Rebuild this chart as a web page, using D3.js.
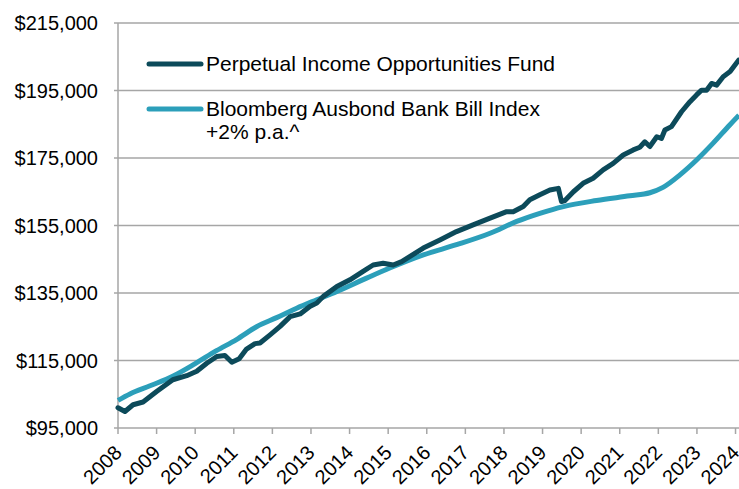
<!DOCTYPE html>
<html>
<head>
<meta charset="utf-8">
<script src="https://cdn.jsdelivr.net/npm/d3@7"></script>
<style>
  body { margin: 0; background: #fff; }
  text { font-family: "Liberation Sans", Arial, sans-serif; fill: #000; }
</style>
</head>
<body>
<svg id="chart"></svg>
<script>
// growth of $100k, positions (decimal years)
const fundYears = [2008.00, 2008.18, 2008.39, 2008.65, 2009.00, 2009.42, 2009.78, 2010.04, 2010.30, 2010.56,
  2010.77, 2010.95, 2011.14, 2011.33, 2011.55, 2011.68, 2011.94, 2012.20, 2012.46, 2012.72,
  2012.97, 2013.15, 2013.32, 2013.67, 2014.01, 2014.35, 2014.61, 2014.87, 2015.13, 2015.35,
  2015.91, 2016.34, 2016.77, 2017.20, 2017.64, 2018.07, 2018.24, 2018.50, 2018.67, 2018.93,
  2019.19, 2019.41, 2019.49, 2019.58, 2019.80, 2020.05, 2020.31, 2020.57, 2020.83, 2021.09,
  2021.35, 2021.52, 2021.65, 2021.78, 2021.96, 2022.08, 2022.17, 2022.34, 2022.60, 2022.82,
  2022.99, 2023.12, 2023.25, 2023.38, 2023.51, 2023.68, 2023.86, 2024.08];
const fundValues = [101000, 99900, 101900, 102700, 105800, 109300, 110500, 111800, 114200, 116200,
  116500, 114500, 115500, 118400, 120000, 120200, 122600, 125100, 128000, 128800,
  131000, 132000, 134000, 136900, 138900, 141400, 143300, 143800, 143300, 144300,
  148300, 150700, 153200, 155200, 157200, 159100, 159100, 160600, 162600, 164100,
  165500, 166000, 162100, 162400, 165000, 167500, 169000, 171500, 173400, 175900,
  177400, 178200, 179800, 178400, 181300, 180800, 183300, 184300, 188700, 191700,
  193700, 195100, 195100, 197100, 196600, 199100, 200600, 204000];

const benchYears = [2008.00, 2008.31, 2008.83, 2009.43, 2009.99, 2010.55, 2011.07, 2011.59, 2012.11, 2012.63,
  2013.15, 2013.66, 2014.44, 2015.04, 2015.91, 2016.77, 2017.64, 2018.33, 2018.93, 2019.54,
  2020.40, 2021.26, 2021.78, 2022.12, 2022.56, 2022.99, 2023.42, 2023.85, 2024.09];
const benchValues = [103200, 105100, 107500, 110400, 114000, 117900, 121200, 125000, 127700, 130500,
  133000, 135400, 139400, 142400, 146300, 149300, 152700, 156200, 158600, 160600,
  162400, 163800, 164700, 166300, 170000, 174400, 179400, 184800, 187700];

const yTicks = [95000, 115000, 135000, 155000, 175000, 195000, 215000];
const xTicks = d3.range(2008, 2025);
const seriesNames = ["Perpetual Income Opportunities Fund", "Bloomberg Ausbond Bank Bill Index"];

const width = 739, height = 489;
const margin = { top: 23, right: 0, bottom: 61, left: 118 };
const colors = ["#0c4a5a", "#2c9fba"];

const svg = d3.select("#chart").attr("width", width).attr("height", height);

const x = d3.scaleLinear().domain([2008, 2024.09]).range([margin.left, width - margin.right]);
const y = d3.scaleLinear().domain([95000, 215000]).range([height - margin.bottom, margin.top]);
const fmt = v => "$" + d3.format(",")(v);

// gridlines
svg.append("g")
  .selectAll("line")
  .data(yTicks)
  .join("line")
  .attr("x1", margin.left - 4).attr("x2", width)
  .attr("y1", d => y(d)).attr("y2", d => y(d))
  .attr("stroke", "#a6a6a6").attr("stroke-width", 1.5);

// y labels
svg.append("g")
  .selectAll("text")
  .data(yTicks)
  .join("text")
  .attr("x", 98).attr("y", d => y(d) + 7)
  .attr("text-anchor", "end")
  .attr("font-size", 20)
  .text(fmt);

// y axis line
svg.append("line")
  .attr("x1", margin.left).attr("x2", margin.left)
  .attr("y1", margin.top).attr("y2", y(95000))
  .attr("stroke", "#a6a6a6").attr("stroke-width", 1.5);

// x ticks
const xg = svg.append("g");
xg.selectAll("line")
  .data(xTicks)
  .join("line")
  .attr("x1", d => x(d)).attr("x2", d => x(d))
  .attr("y1", y(95000)).attr("y2", y(95000) + 6)
  .attr("stroke", "#a6a6a6").attr("stroke-width", 1.5);
xg.selectAll("text")
  .data(xTicks)
  .join("text")
  .attr("text-anchor", "end")
  .attr("font-size", 20)
  .attr("transform", d => `translate(${x(d) + 5},${y(95000) + 26}) rotate(-45)`)
  .text(d => d);

// lines
const line = d3.line().x(d => x(d[0])).y(d => y(d[1]));
const benchData = benchYears.map((t, i) => [t, benchValues[i]]);
const fundData = fundYears.map((t, i) => [t, fundValues[i]]);

svg.append("path")
  .datum(benchData)
  .attr("d", line.curve(d3.curveMonotoneX))
  .attr("fill", "none")
  .attr("stroke", colors[1]).attr("stroke-width", 5)
  .attr("stroke-linejoin", "round");

svg.append("path")
  .datum(fundData)
  .attr("d", line.curve(d3.curveLinear))
  .attr("fill", "none")
  .attr("stroke", colors[0]).attr("stroke-width", 5)
  .attr("stroke-linejoin", "round").attr("stroke-linecap", "round");

// legend
const legend = svg.append("g");
const legendRows = [
  { name: seriesNames[0], color: colors[0], y: 64, extra: null },
  { name: seriesNames[1], color: colors[1], y: 109, extra: "+2% p.a.^" }
];
legendRows.forEach(r => {
  legend.append("line")
    .attr("x1", 149).attr("x2", 201)
    .attr("y1", r.y).attr("y2", r.y)
    .attr("stroke", r.color).attr("stroke-width", 5)
    .attr("stroke-linecap", "round");
  legend.append("text")
    .attr("x", 206).attr("y", r.y + 7)
    .attr("font-size", 21)
    .text(r.name);
  if (r.extra) {
    legend.append("text")
      .attr("x", 206).attr("y", r.y + 30)
      .attr("font-size", 21)
      .text(r.extra);
  }
});
</script>
</body>
</html>
